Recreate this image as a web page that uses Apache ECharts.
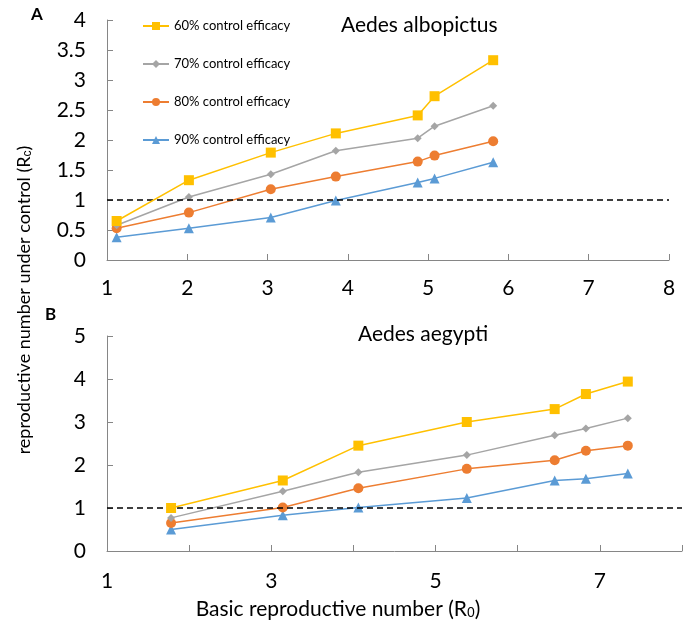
<!DOCTYPE html>
<html lang="en">
<head>
<meta charset="UTF-8">
<title>Rc vs R0</title>
<script src="https://cdn.jsdelivr.net/npm/echarts@6/dist/echarts.min.js"></script>
<style>body{margin:0;background:#fff}</style>
</head>
<body>
<div id="main" style="width:685px;height:625px;"></div>
<script>
// top panel: Aedes albopictus
var r0Albo = [1.12, 2.02, 3.04, 3.85, 4.87, 5.08, 5.81];
var albo60 = [0.65, 1.33, 1.79, 2.11, 2.41, 2.73, 3.33];
var albo70 = [0.58, 1.05, 1.43, 1.82, 2.03, 2.23, 2.57];
var albo80 = [0.53, 0.79, 1.18, 1.39, 1.64, 1.74, 1.98];
var albo90 = [0.38, 0.53, 0.71, 0.99, 1.29, 1.36, 1.63];
// bottom panel: Aedes aegypti
var r0Aeg = [1.78, 3.14, 4.06, 5.38, 6.45, 6.83, 7.34];
var aeg60 = [1.0, 1.64, 2.45, 3.0, 3.30, 3.65, 3.94];
var aeg70 = [0.77, 1.39, 1.83, 2.23, 2.69, 2.85, 3.09];
var aeg80 = [0.65, 1.01, 1.46, 1.91, 2.11, 2.33, 2.45];
var aeg90 = [0.50, 0.83, 1.01, 1.23, 1.64, 1.68, 1.80];

var names = ['60% control efficacy', '70% control efficacy', '80% control efficacy', '90% control efficacy'];
var colors = ['#FFC000', '#A5A5A5', '#ED7D31', '#5B9BD5'];
var symbols = ['rect', 'diamond', 'circle', 'triangle'];
var symSizes = [10, 8, 10, 10];

var FONT = 'Lato';

function pairs(xs, ys) {
    return xs.map(function (x, i) { return [x, ys[i]]; });
}

var series = [];
var topData = [albo60, albo70, albo80, albo90];
var botData = [aeg60, aeg70, aeg80, aeg90];
[0, 1].forEach(function (g) {
    var xs = g === 0 ? r0Albo : r0Aeg;
    var sets = g === 0 ? topData : botData;
    sets.forEach(function (ys, k) {
        var s = {
            name: names[k],
            type: 'line',
            xAxisIndex: g,
            yAxisIndex: g,
            data: pairs(xs, ys),
            symbol: symbols[k],
            symbolSize: symSizes[k],
            showAllSymbol: true,
            lineStyle: {color: colors[k], width: 1.5},
            itemStyle: {color: colors[k]},
            z: 5 - k
        };
        if (k === 0) {
            // dashed threshold Rc = 1
            s.markLine = {
                silent: true,
                symbol: 'none',
                label: {show: false},
                lineStyle: {color: '#000', type: [6, 4], width: 1.5},
                data: [{yAxis: 1}]
            };
        }
        series.push(s);
    });
});

var axisLine = {show: true, lineStyle: {color: '#868686', width: 1}};
var axisTick = {show: true, inside: true, length: 6, lineStyle: {color: '#868686'}};

var myChart = echarts.init(document.getElementById('main'));
myChart.setOption({
    animation: false,
    textStyle: {fontFamily: FONT},
    legend: {
        data: names,
        orient: 'vertical',
        left: 137,
        top: 14,
        itemWidth: 26,
        itemHeight: 10,
        itemGap: 24,
        textStyle: {fontSize: 13, color: '#000', fontFamily: FONT, lineHeight: 14},
        selectedMode: false
    },
    grid: [
        {left: 107, top: 20, width: 562, height: 240},
        {left: 107, top: 336, width: 575, height: 215}
    ],
    xAxis: [
        {
            type: 'value', gridIndex: 0, min: 1, max: 8, interval: 1,
            splitLine: {show: false}, axisLine: axisLine, axisTick: axisTick,
            axisLabel: {fontSize: 21, color: '#000', margin: 18, fontFamily: FONT}
        },
        {
            type: 'value', gridIndex: 1, min: 1, max: 8, interval: 1,
            splitLine: {show: false}, axisLine: axisLine, axisTick: axisTick,
            axisLabel: {
                fontSize: 21, color: '#000', margin: 20, fontFamily: FONT,
                formatter: function (v) { return v % 2 === 1 ? String(v) : ''; }
            }
        }
    ],
    yAxis: [
        {
            type: 'value', gridIndex: 0, min: 0, max: 4, interval: 0.5,
            splitLine: {show: false}, axisLine: axisLine, axisTick: axisTick,
            axisLabel: {fontSize: 21, color: '#000', margin: 21, fontFamily: FONT}
        },
        {
            type: 'value', gridIndex: 1, min: 0, max: 5, interval: 1,
            splitLine: {show: false}, axisLine: axisLine, axisTick: axisTick,
            axisLabel: {fontSize: 21, color: '#000', margin: 21, fontFamily: FONT}
        }
    ],
    graphic: [
        {type: 'text', left: 31, top: 6, style: {text: 'A', font: 'bold 17px ' + FONT, fill: '#000'}},
        {type: 'text', left: 45, top: 306, style: {text: 'B', font: 'bold 17px ' + FONT, fill: '#000'}},
        {type: 'text', left: 341, top: 15, style: {text: 'Aedes albopictus', font: '21px ' + FONT, fill: '#000'}},
        {type: 'text', left: 358, top: 324, style: {text: 'Aedes aegypti', font: '21px ' + FONT, fill: '#000'}},
        {
            type: 'text', x: 338, y: 609,
            style: {
                text: 'Basic reproductive number (R{s|0})',
                font: '21px ' + FONT, fill: '#000', align: 'center', verticalAlign: 'middle',
                rich: {s: {fontSize: 14, verticalAlign: 'bottom', padding: [9, 0, 0, 0]}}
            }
        },
        {
            type: 'text', x: 24, y: 300, rotation: Math.PI / 2,
            style: {
                text: 'reproductive number under control (R{s|c})',
                font: '18px ' + FONT, fill: '#000', align: 'center', verticalAlign: 'middle',
                rich: {s: {fontSize: 12, verticalAlign: 'bottom', padding: [8, 0, 0, 0]}}
            }
        }
    ],
    series: series
});
</script>
</body>
</html>
